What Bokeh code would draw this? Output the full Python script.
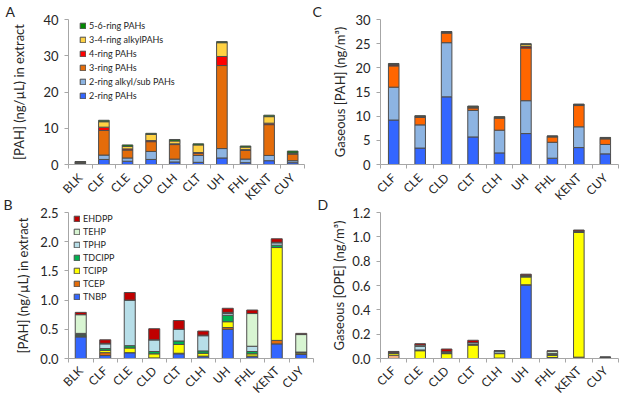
import math
from bokeh.plotting import figure
from bokeh.models import (Range1d, FixedTicker, Legend, LegendItem,
                          PrintfTickFormatter, ColumnDataSource)
from bokeh.layouts import row, column
from bokeh.embed import file_html
from bokeh.resources import INLINE

FONT = "Lato"

# ---------------- Panel A : PAHs in extract ----------------
sites_A = ["BLK", "CLF", "CLE", "CLD", "CLH", "CLT", "UH", "FHL", "KENT", "CUY"]
pah_names = ["2-ring PAHs", "2-ring alkyl/sub PAHs", "3-ring PAHs",
             "4-ring PAHs", "3-4-ring alkylPAHs", "5-6-ring PAHs"]
two_ring_A = [0.3, 1.4, 0.9, 1.4, 0.7, 0.6, 1.8, 0.5, 1.05, 0.5]
alkyl2_A = [0.15, 1.2, 0.9, 2.2, 0.8, 1.9, 2.6, 1.0, 1.45, 0.55]
three_ring_A = [0.15, 6.8, 2.2, 2.7, 4.0, 0.6, 22.9, 2.4, 8.5, 1.85]
four_ring_A = [0.05, 0.9, 0.3, 0.3, 0.2, 0.2, 2.5, 0.2, 0.4, 0.1]
alkyl34_A = [0.1, 1.5, 0.7, 1.7, 0.8, 2.1, 3.8, 0.7, 1.8, 0.2]
five6_A = [0.05, 0.4, 0.4, 0.3, 0.4, 0.3, 0.3, 0.3, 0.4, 0.5]
yticks_A = [0, 10, 20, 30, 40]

# ---------------- Panel C : gaseous PAHs ----------------
sites_C = ["CLF", "CLE", "CLD", "CLT", "CLH", "UH", "FHL", "KENT", "CUY"]
two_ring_C = [9.2, 3.4, 14.0, 5.7, 2.4, 6.4, 1.3, 3.5, 2.2]
alkyl2_C = [6.8, 4.8, 11.2, 5.5, 4.7, 6.8, 3.3, 4.3, 1.95]
three_ring_C = [4.4, 1.55, 2.0, 0.5, 2.5, 10.9, 1.1, 4.4, 1.15]
four_ring_C = [0.2, 0.15, 0.1, 0.15, 0.1, 0.3, 0.1, 0.1, 0.1]
alkyl34_C = [0.1, 0.05, 0.1, 0.1, 0.05, 0.4, 0.05, 0.1, 0.1]
five6_C = [0.2, 0.15, 0.1, 0.15, 0.15, 0.2, 0.05, 0.1, 0.1]
yticks_C = [0, 5, 10, 15, 20, 25, 30]

# ---------------- Panel B : OPEs in extract ----------------
sites_B = ["BLK", "CLF", "CLE", "CLD", "CLT", "CLH", "UH", "FHL", "KENT", "CUY"]
ope_names = ["TNBP", "TCEP", "TCIPP", "TDCIPP", "TPHP", "TEHP", "EHDPP"]
TNBP_B = [0.37, 0.05, 0.10, 0.01, 0.08, 0.03, 0.50, 0.03, 0.25, 0.07]
TCEP_B = [0.01, 0.05, 0.00, 0.00, 0.01, 0.01, 0.03, 0.01, 0.06, 0.01]
TCIPP_B = [0.01, 0.04, 0.08, 0.07, 0.15, 0.05, 0.10, 0.04, 1.59, 0.02]
TDCIPP_B = [0.02, 0.03, 0.04, 0.04, 0.06, 0.04, 0.11, 0.04, 0.04, 0.01]
TPHP_B = [0.02, 0.08, 0.78, 0.20, 0.20, 0.26, 0.03, 0.09, 0.04, 0.00]
TEHP_B = [0.32, 0.01, 0.00, 0.00, 0.00, 0.01, 0.02, 0.56, 0.01, 0.30]
EHDPP_B = [0.04, 0.06, 0.13, 0.19, 0.15, 0.07, 0.07, 0.06, 0.06, 0.02]
yticks_B = [0.0, 0.5, 1.0, 1.5, 2.0, 2.5]

# ---------------- Panel D : gaseous OPEs ----------------
sites_D = ["CLF", "CLE", "CLD", "CLT", "CLH", "UH", "FHL", "KENT", "CUY"]
TNBP_D = [0.0, 0.0, 0.0, 0.0, 0.003, 0.603, 0.008, 0.005, 0.002]
TCEP_D = [0.027, 0.0, 0.0, 0.0, 0.0, 0.003, 0.0, 0.006, 0.0]
TCIPP_D = [0.015, 0.064, 0.04, 0.11, 0.037, 0.064, 0.018, 1.025, 0.006]
TDCIPP_D = [0.005, 0.006, 0.008, 0.005, 0.004, 0.008, 0.008, 0.005, 0.001]
TPHP_D = [0.005, 0.03, 0.008, 0.015, 0.018, 0.004, 0.008, 0.004, 0.001]
TEHP_D = [0.0, 0.01, 0.0, 0.0, 0.0, 0.003, 0.018, 0.003, 0.0]
EHDPP_D = [0.006, 0.012, 0.022, 0.02, 0.002, 0.008, 0.003, 0.008, 0.001]
yticks_D = [0.0, 0.2, 0.4, 0.6, 0.8, 1.0, 1.2]

pah_colors_A = ["#3366FF", "#8DB4E2", "#E46C0A", "#FF0000", "#FFD243", "#008A00"]
pah_colors_C = ["#3366FF", "#8DB4E2", "#FF6600", "#C00000", "#FFD243", "#3F7F2F"]
ope_colors_B = ["#3366FF", "#E46C0A", "#FFFF00", "#00B050", "#B7DEE8", "#D8F5D2", "#C00000"]
ope_colors_D = ["#3366FF", "#F4B183", "#FFFF00", "#00B050", "#B7DEE8", "#D8F5D2", "#C00000"]

AXIS_COLOR = "#A6A6A6"
TEXT_COLOR = "#262626"


def make_panel(sites, names, values, colors, ymax, yticks, yfmt, ylabel, letter,
               fw, fh, bl, br, bb, lab_standoff, bar_w, x_standoff, letter_x,
               legend=False, legend_xy=(0, 0), legend_spacing=3):
    n = len(sites)
    xs = list(range(n))
    p = figure(frame_width=fw, frame_height=fh, output_backend="svg",
               toolbar_location=None,
               x_range=Range1d(-0.5, n - 0.5), y_range=Range1d(0, ymax),
               min_border_left=bl, min_border_right=br,
               min_border_top=0, min_border_bottom=bb)
    data = {"x": xs}
    keys = []
    for i, v in enumerate(values):
        k = "s%d" % i
        data[k] = v
        keys.append(k)
    src = ColumnDataSource(data)
    rs = p.vbar_stack(keys, x="x", width=bar_w, source=src,
                      fill_color=colors, line_color="#4D4D4D", line_width=1)

    p.xgrid.visible = False
    p.ygrid.visible = False
    p.outline_line_color = None
    p.background_fill_alpha = 0
    p.border_fill_alpha = 0

    p.title.text = letter
    p.title.align = "left"
    p.title.offset = -(bl - letter_x)
    p.title.standoff = 0
    p.title.text_font = FONT
    p.title.text_font_size = "14px"
    p.title.text_font_style = "normal"
    p.title.text_color = TEXT_COLOR

    xa = p.xaxis[0]
    xa.ticker = FixedTicker(ticks=xs, minor_ticks=[i - 0.5 for i in range(n + 1)])
    xa.major_label_overrides = {i: s for i, s in enumerate(sites)}
    xa.major_label_orientation = math.pi / 4
    xa.major_tick_out = 0
    xa.major_tick_in = 0
    xa.minor_tick_out = 4
    xa.minor_tick_in = 0
    xa.minor_tick_line_color = AXIS_COLOR
    xa.axis_line_color = AXIS_COLOR
    xa.major_label_text_font = FONT
    xa.major_label_text_font_size = "12px"
    xa.major_label_text_color = TEXT_COLOR
    xa.major_label_standoff = x_standoff

    ya = p.yaxis[0]
    ya.ticker = FixedTicker(ticks=yticks, minor_ticks=[])
    if yfmt:
        ya.formatter = PrintfTickFormatter(format=yfmt)
    ya.major_tick_out = 4
    ya.major_tick_in = 0
    ya.minor_tick_out = 0
    ya.minor_tick_in = 0
    ya.major_tick_line_color = AXIS_COLOR
    ya.axis_line_color = AXIS_COLOR
    ya.major_label_text_font = FONT
    ya.major_label_text_font_size = "13px"
    ya.major_label_text_color = TEXT_COLOR
    ya.major_label_standoff = 6
    ya.axis_label = ylabel
    ya.axis_label_text_font = FONT
    ya.axis_label_text_font_size = "13px"
    ya.axis_label_text_font_style = "normal"
    ya.axis_label_text_color = TEXT_COLOR
    ya.axis_label_standoff = lab_standoff

    if legend:
        items = [LegendItem(label=nm, renderers=[r]) for nm, r in zip(names, rs)][::-1]
        lg = Legend(items=items, location=legend_xy, margin=0, padding=0,
                    border_line_color=None, background_fill_alpha=0,
                    label_text_font=FONT, label_text_font_size="9px",
                    label_text_color=TEXT_COLOR,
                    glyph_width=7, glyph_height=7, label_height=10,
                    label_standoff=3, spacing=legend_spacing)
        p.add_layout(lg)
    return p


FH1, FH2 = 145, 146
# top row: A (width 310) + C (width 312)
pA = make_panel(sites_A, pah_names,
                [two_ring_A, alkyl2_A, three_ring_A, four_ring_A, alkyl34_A, five6_A],
                pah_colors_A, 40, yticks_A, None, "[PAH] (ng/\u00b5L) in extract", "A",
                236, FH1, 68, 6, 64, 13, 0.45, 7, 5,
                legend=True, legend_xy=(11, FH1 - 1 - 81), legend_spacing=3)
pC = make_panel(sites_C, pah_names,
                [two_ring_C, alkyl2_C, three_ring_C, four_ring_C, alkyl34_C, five6_C],
                pah_colors_C, 30, yticks_C, None, "Gaseous [PAH] (ng/m\u00b3)", "C",
                238, FH1, 70, 4, 64, 4, 0.4, 7, 2)
# bottom row: B (width 316) + D (width 306)
pB = make_panel(sites_B, ope_names,
                [TNBP_B, TCEP_B, TCIPP_B, TDCIPP_B, TPHP_B, TEHP_B, EHDPP_B],
                ope_colors_B, 2.5, yticks_B, "%.1f", "[PAH] (ng/\u00b5L) in extract", "B",
                245, FH2, 68, 3, 63, 6, 0.45, 6, 3,
                legend=True, legend_xy=(5, FH2 - 1 - 89), legend_spacing=2)
pD = make_panel(sites_D, ope_names,
                [TNBP_D, TCEP_D, TCIPP_D, TDCIPP_D, TPHP_D, TEHP_D, EHDPP_D],
                ope_colors_D, 1.2, yticks_D, "%.1f", "Gaseous [OPE] (ng/m\u00b3)", "D",
                238, FH2, 64, 4, 63, 2, 0.4, 6, 1)

top_row = row(pA, pC)
bottom_row = row(pB, pD, margin=(-35, 0, -22, 0))
layout = column(top_row, bottom_row, styles={"overflow": "hidden"})
open("out.html", "w").write(file_html(layout, INLINE))
